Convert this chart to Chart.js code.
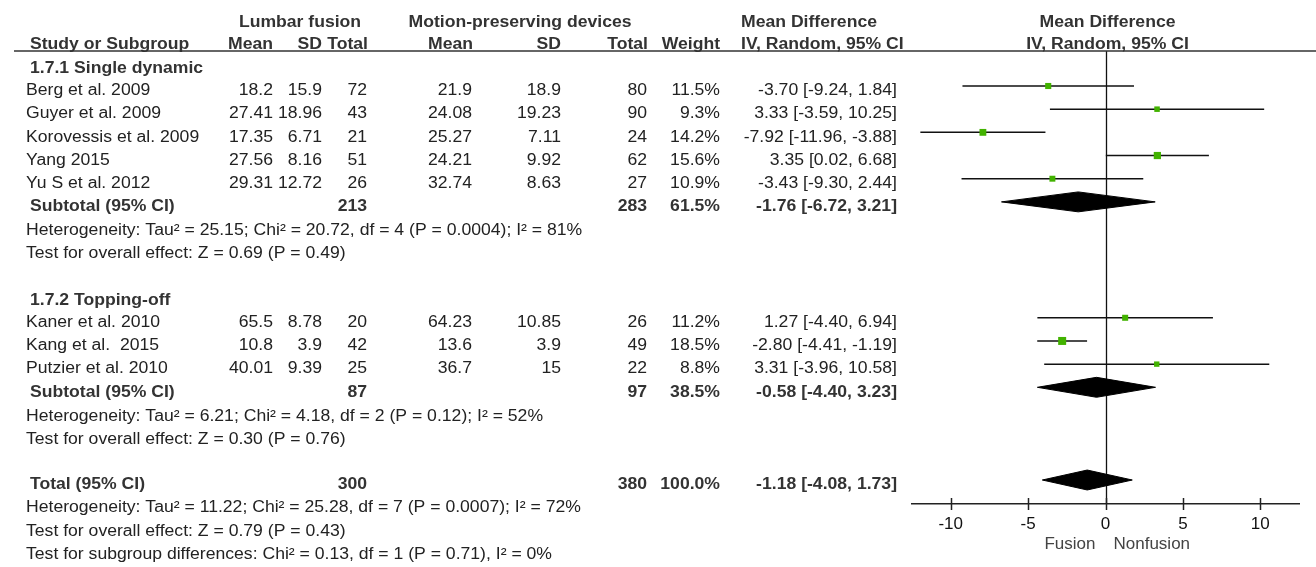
<!DOCTYPE html>
<html><head><meta charset="utf-8">
<script src="https://cdn.jsdelivr.net/npm/chart.js@4.4.1/dist/chart.umd.min.js"></script>
<style>html,body{margin:0;padding:0;background:#fff;overflow:hidden}#wrap{width:1316px;height:567px;position:relative}</style>
</head><body><div id="wrap"><canvas id="c" width="1316" height="567"></canvas></div>
<script>
// ---------- data ----------
const subgroups = ["1.7.1 Single dynamic", "1.7.2 Topping-off"];
const studies = ["Berg et al. 2009","Guyer et al. 2009","Korovessis et al. 2009","Yang 2015","Yu S et al. 2012","Kaner et al. 2010","Kang et al.  2015","Putzier et al. 2010"];
const studyGroup = [0,0,0,0,0,1,1,1];
const fusionMean = [18.2,27.41,17.35,27.56,29.31,65.5,10.8,40.01];
const fusionSD = [15.9,18.96,6.71,8.16,12.72,8.78,3.9,9.39];
const fusionN = [72,43,21,51,26,20,42,25];
const motionMean = [21.9,24.08,25.27,24.21,32.74,64.23,13.6,36.7];
const motionSD = [18.9,19.23,7.11,9.92,8.63,10.85,3.9,15];
const motionN = [80,90,24,62,27,26,49,22];
const weights = [11.5,9.3,14.2,15.6,10.9,11.2,18.5,8.8];
const md = [-3.70,3.33,-7.92,3.35,-3.43,1.27,-2.80,3.31];
const ciLow = [-9.24,-3.59,-11.96,0.02,-9.30,-4.40,-4.41,-3.96];
const ciHigh = [1.84,10.25,-3.88,6.68,2.44,6.94,-1.19,10.58];

const subFusionN = [213,87];
const subMotionN = [283,97];
const subWeight = [61.5,38.5];
const subMd = [-1.76,-0.58];
const subLow = [-6.72,-4.40];
const subHigh = [3.21,3.23];
const subHetero = ["Heterogeneity: Tau\u00b2 = 25.15; Chi\u00b2 = 20.72, df = 4 (P = 0.0004); I\u00b2 = 81%",
                   "Heterogeneity: Tau\u00b2 = 6.21; Chi\u00b2 = 4.18, df = 2 (P = 0.12); I\u00b2 = 52%"];
const subTest = ["Test for overall effect: Z = 0.69 (P = 0.49)","Test for overall effect: Z = 0.30 (P = 0.76)"];

const totalFusionN = 300, totalMotionN = 380, totalWeight = 100.0;
const totalMd = -1.18, totalLow = -4.08, totalHigh = 1.73;
const totalNotes = ["Heterogeneity: Tau\u00b2 = 11.22; Chi\u00b2 = 25.28, df = 7 (P = 0.0007); I\u00b2 = 72%",
                    "Test for overall effect: Z = 0.79 (P = 0.43)",
                    "Test for subgroup differences: Chi\u00b2 = 0.13, df = 1 (P = 0.71), I\u00b2 = 0%"];
const xTicks = [-10,-5,0,5,10];
const favourLabels = ["Fusion","Nonfusion"];

// ---------- row layout (row index -> y via the y scale) ----------
const rows = { study: [], sub: [], subHead: [], het: [], test: [] };
let r = 2;
subgroups.forEach((g, gi) => {
  rows.subHead.push(r); r++;
  studies.forEach((s, i) => { if (studyGroup[i] === gi) { rows.study[i] = r; r++; } });
  rows.sub.push(r); r++;
  rows.het.push(r); r++;
  rows.test.push(r); r++;
  r++;
});
const totalRow = r;

const fmt2 = v => v.toFixed(2);
const ciText = (m, l, h) => fmt2(m) + " [" + fmt2(l) + ", " + fmt2(h) + "]";

// ---------- datasets ----------
const GREEN = '#42b200';
const datasets = [];
studies.forEach((s, i) => {
  datasets.push({ data: [{x: ciLow[i], y: rows.study[i]}, {x: ciHigh[i], y: rows.study[i]}],
    showLine: true, borderColor: '#111', borderWidth: 1.5, pointRadius: 0, order: 2 });
});
datasets.push({ data: md.map((v, i) => ({x: v, y: rows.study[i]})),
  pointStyle: 'rect', backgroundColor: GREEN, borderWidth: 0,
  pointRadius: weights.map(w => (3 + w * 0.27) / Math.SQRT2), order: 1 });
const DH = 0.43;
function diamond(m, l, h, row) {
  return { data: [{x: l, y: row}, {x: m, y: row - DH}, {x: h, y: row}, {x: m, y: row + DH}, {x: l, y: row}],
    showLine: true, fill: 'shape', backgroundColor: '#000', borderColor: '#000', borderWidth: 1,
    pointRadius: 0, tension: 0, order: 1 };
}
subMd.forEach((m, gi) => datasets.push(diamond(m, subLow[gi], subHigh[gi], rows.sub[gi])));
datasets.push(diamond(totalMd, totalLow, totalHigh, totalRow));

// ---------- text / decorations plugin ----------
const FONT = '"Liberation Sans", Arial, sans-serif';
const COL = { name: 30, m1: 273, sd1: 322, n1: 367, m2: 472, sd2: 561, n2: 647, w: 720, ci: 897, ciHead: 741 };
const TXT = '#222', HEAD = '#333';
const SX = 1.1;
const forest = {
  id: 'forest',
  beforeDatasetsDraw(chart) {
    const {ctx, chartArea: ca, scales: {x}} = chart;
    ctx.save();
    ctx.strokeStyle = '#111'; ctx.lineWidth = 1.3;
    const x0 = Math.round(x.getPixelForValue(0)) + 0.5;
    ctx.beginPath(); ctx.moveTo(x0, ca.top); ctx.lineTo(x0, ca.bottom); ctx.stroke();
    ctx.restore();
  },
  afterDraw(chart) {
    const {ctx, chartArea: ca, scales: {x, y}} = chart;
    const Y = v => y.getPixelForValue(v);
    ctx.save();
    const txt = (s, px, py, align, bold, color) => {
      ctx.save();
      ctx.font = (bold ? 'bold ' : '') + '16px ' + FONT;
      ctx.fillStyle = color || TXT; ctx.textAlign = align || 'left'; ctx.textBaseline = 'alphabetic';
      ctx.translate(px, py); ctx.scale(SX, 1);
      ctx.fillText(s, 0, 0);
      ctx.restore();
    };
    const off = 9.25;
    // header
    const hy1 = 27, hy2 = 49;
    const cx = (ca.left + ca.right) / 2 + 2;
    txt('Lumbar fusion', 300, hy1, 'center', true, HEAD);
    txt('Motion-preserving devices', 520, hy1, 'center', true, HEAD);
    txt('Mean Difference', COL.ciHead, hy1, 'left', true, HEAD);
    txt('Mean Difference', cx, hy1, 'center', true, HEAD);
    txt('Study or Subgroup', COL.name, hy2, 'left', true, HEAD);
    txt('Mean', COL.m1, hy2, 'right', true, HEAD);
    txt('SD', COL.sd1, hy2, 'right', true, HEAD);
    txt('Total', COL.n1 + 1, hy2, 'right', true, HEAD);
    txt('Mean', COL.m2 + 1, hy2, 'right', true, HEAD);
    txt('SD', COL.sd2, hy2, 'right', true, HEAD);
    txt('Total', COL.n2 + 1, hy2, 'right', true, HEAD);
    txt('Weight', COL.w, hy2, 'right', true, HEAD);
    txt('IV, Random, 95% CI', COL.ciHead, hy2, 'left', true, HEAD);
    txt('IV, Random, 95% CI', cx, hy2, 'center', true, HEAD);
    // header rule
    ctx.strokeStyle = '#333'; ctx.lineWidth = 1.5;
    ctx.beginPath(); ctx.moveTo(14, 51); ctx.lineTo(1316, 51); ctx.stroke();
    // subgroups
    subgroups.forEach((g, gi) => {
      txt(g, COL.name, Y(rows.subHead[gi]) + off + 1, 'left', true, HEAD);
      const sy = Y(rows.sub[gi]) + off;
      txt('Subtotal (95% CI)', COL.name, sy, 'left', true, HEAD);
      txt(String(subFusionN[gi]), COL.n1, sy, 'right', true, HEAD);
      txt(String(subMotionN[gi]), COL.n2, sy, 'right', true, HEAD);
      txt(subWeight[gi].toFixed(1) + '%', COL.w, sy, 'right', true, HEAD);
      txt(ciText(subMd[gi], subLow[gi], subHigh[gi]), COL.ci, sy, 'right', true, HEAD);
      txt(subHetero[gi], COL.name - 4, Y(rows.het[gi]) + off + 1, 'left');
      txt(subTest[gi], COL.name - 4, Y(rows.test[gi]) + off + 1, 'left');
    });
    studies.forEach((s, i) => {
      const sy = Y(rows.study[i]) + off;
      txt(s, COL.name - 4, sy, 'left');
      txt(String(fusionMean[i]), COL.m1, sy, 'right');
      txt(String(fusionSD[i]), COL.sd1, sy, 'right');
      txt(String(fusionN[i]), COL.n1, sy, 'right');
      txt(String(motionMean[i]), COL.m2, sy, 'right');
      txt(String(motionSD[i]), COL.sd2, sy, 'right');
      txt(String(motionN[i]), COL.n2, sy, 'right');
      txt(weights[i].toFixed(1) + '%', COL.w, sy, 'right');
      txt(ciText(md[i], ciLow[i], ciHigh[i]), COL.ci, sy, 'right');
    });
    const ty = Y(totalRow) + off;
    txt('Total (95% CI)', COL.name, ty, 'left', true, HEAD);
    txt(String(totalFusionN), COL.n1, ty, 'right', true, HEAD);
    txt(String(totalMotionN), COL.n2, ty, 'right', true, HEAD);
    txt(totalWeight.toFixed(1) + '%', COL.w, ty, 'right', true, HEAD);
    txt(ciText(totalMd, totalLow, totalHigh), COL.ci, ty, 'right', true, HEAD);
    totalNotes.forEach((n, k) => txt(n, COL.name - 4, Y(totalRow + 1 + k) + off, 'left'));
    // axis tick marks crossing the axis line
    ctx.strokeStyle = '#222'; ctx.lineWidth = 1.5;
    xTicks.forEach(t => {
      const px = Math.round(x.getPixelForValue(t)) + 0.5;
      ctx.beginPath(); ctx.moveTo(px, ca.bottom - 6); ctx.lineTo(px, ca.bottom + 6); ctx.stroke();
    });
    // favour labels
    const x0 = x.getPixelForValue(0);
    ctx.font = '17px ' + FONT; ctx.fillStyle = '#444'; ctx.textBaseline = 'alphabetic';
    ctx.textAlign = 'right'; ctx.fillText(favourLabels[0], x0 - 10, 549);
    ctx.textAlign = 'left'; ctx.fillText(favourLabels[1], x0 + 8, 549);
    ctx.restore();
  }
};

new Chart(document.getElementById('c'), {
  type: 'scatter',
  data: { datasets },
  options: {
    responsive: false, animation: false, devicePixelRatio: 1,
    layout: { padding: { left: 912, right: 17, top: 51, bottom: 0 } },
    plugins: { legend: { display: false }, tooltip: { enabled: false } },
    scales: {
      x: { type: 'linear', min: -12.5, max: 12.5,
        afterBuildTicks: s => { s.ticks = xTicks.map(v => ({ value: v })); },
        afterFit: s => { s.height = 63; },
        grid: { display: false, drawTicks: false },
        border: { display: true, color: '#222', width: 1.5 },
        ticks: { color: '#111', font: { family: FONT, size: 17 }, padding: 10, maxRotation: 0,
          callback: v => String(v) } },
      y: { type: 'linear', reverse: true, min: 1.49, max: 21.035, display: false }
    }
  },
  plugins: [forest]
});
</script></body></html>
